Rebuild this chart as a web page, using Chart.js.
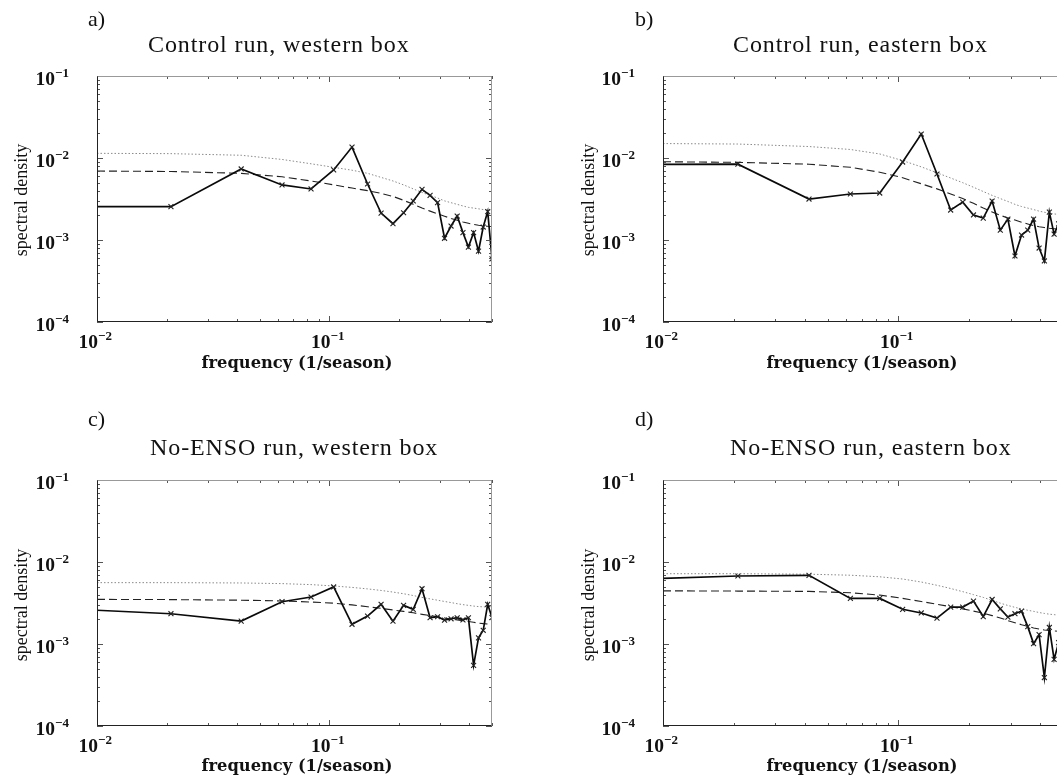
<!DOCTYPE html>
<html>
<head>
<meta charset="utf-8">
<script src="https://cdn.jsdelivr.net/npm/chart.js@4.4.1/dist/chart.umd.min.js"></script>
<style>
  html, body { margin: 0; padding: 0; background: #fff; }
  body { width: 1057px; height: 776px; overflow: hidden; position: relative; }
  canvas { position: absolute; }
  .txt { position: absolute; white-space: nowrap; color: #111; line-height: 1; }
  .letter { font: 22px "Liberation Serif", serif; }
  .title { font: 24px "Liberation Serif", serif; letter-spacing: 0.9px; }
  .ylab { font: 18px "Liberation Serif", serif; transform: translate(-50%, -50%) rotate(-90deg); }
  .xlab { font: bold 16.3px "DejaVu Serif", serif; transform: translateX(-50%); }
</style>
</head>
<body>
<canvas id="chartA"></canvas>
<canvas id="chartB"></canvas>
<canvas id="chartC"></canvas>
<canvas id="chartD"></canvas>

<div class="txt letter" style="left:88px; top:6px;">a)</div>
<div class="txt letter" style="left:635px; top:6px;">b)</div>
<div class="txt letter" style="left:88px; top:406px;">c)</div>
<div class="txt letter" style="left:635px; top:406px;">d)</div>

<div class="txt title" style="left:148px; top:31px;">Control run, western box</div>
<div class="txt title" style="left:733px; top:31px;">Control run, eastern box</div>
<div class="txt title" style="left:150px; top:434px;">No-ENSO run, western box</div>
<div class="txt title" style="left:730px; top:434px;">No-ENSO run, eastern box</div>

<div class="txt ylab" style="left:21px; top:200px;">spectral density</div>
<div class="txt ylab" style="left:588px; top:200px;">spectral density</div>
<div class="txt ylab" style="left:21px; top:605px;">spectral density</div>
<div class="txt ylab" style="left:588px; top:605px;">spectral density</div>

<div class="txt xlab" style="left:297px; top:353px;">frequency (1/season)</div>
<div class="txt xlab" style="left:862px; top:353px;">frequency (1/season)</div>
<div class="txt xlab" style="left:297px; top:756px;">frequency (1/season)</div>
<div class="txt xlab" style="left:862px; top:756px;">frequency (1/season)</div>

<script>
// frequencies (1/season): left edge, then k/48 up to Nyquist
const freq = [0.0100, 0.0208, 0.0417, 0.0625, 0.0833, 0.1042, 0.1250, 0.1458, 0.1667, 0.1875,
              0.2083, 0.2292, 0.2500, 0.2708, 0.2917, 0.3125, 0.3333, 0.3542, 0.3750, 0.3958,
              0.4167, 0.4375, 0.4583, 0.4792, 0.5000];

// a) control run, western box
const ctrlWestPsd = [2.55e-3, 2.55e-3, 7.35e-3, 4.69e-3, 4.19e-3, 7.15e-3, 1.36e-2, 4.82e-3, 2.13e-3, 1.58e-3,
                     2.15e-3, 2.99e-3, 4.15e-3, 3.5e-3, 2.85e-3, 1.05e-3, 1.48e-3, 1.96e-3, 1.23e-3, 8.2e-4,
                     1.23e-3, 7.3e-4, 1.44e-3, 2.22e-3, 5.9e-4];
const ctrlWestRed = [6.93e-3, 6.85e-3, 6.5e-3, 5.9e-3, 5.25e-3, 4.7e-3, 4.3e-3, 4.0e-3, 3.7e-3, 3.4e-3,
                     3.05e-3, 2.72e-3, 2.45e-3, 2.25e-3, 2.08e-3, 1.95e-3, 1.83e-3, 1.74e-3, 1.66e-3, 1.6e-3,
                     1.55e-3, 1.51e-3, 1.49e-3, 1.47e-3, 1.46e-3];
const ctrlWestSig = [1.14e-2, 1.13e-2, 1.08e-2, 9.6e-3, 8.5e-3, 7.7e-3, 7.1e-3, 6.5e-3, 5.8e-3, 5.25e-3,
                     4.7e-3, 4.2e-3, 3.8e-3, 3.5e-3, 3.25e-3, 3.0e-3, 2.85e-3, 2.72e-3, 2.6e-3, 2.5e-3,
                     2.45e-3, 2.4e-3, 2.35e-3, 2.32e-3, 2.3e-3];

// b) control run, eastern box
const ctrlEastPsd = [8.37e-3, 8.4e-3, 3.16e-3, 3.64e-3, 3.74e-3, 8.93e-3, 1.96e-2, 6.38e-3, 2.32e-3, 2.9e-3,
                     2.02e-3, 1.85e-3, 2.99e-3, 1.32e-3, 1.8e-3, 6.38e-4, 1.15e-3, 1.32e-3, 1.8e-3, 7.98e-4,
                     5.55e-4, 2.19e-3, 1.18e-3, 1.57e-3, 1.3e-3];
const ctrlEastRed = [9.0e-3, 8.85e-3, 8.4e-3, 7.7e-3, 6.7e-3, 5.75e-3, 4.85e-3, 4.2e-3, 3.65e-3, 3.2e-3,
                     2.8e-3, 2.45e-3, 2.2e-3, 2.0e-3, 1.85e-3, 1.75e-3, 1.65e-3, 1.57e-3, 1.5e-3, 1.45e-3,
                     1.42e-3, 1.39e-3, 1.37e-3, 1.35e-3, 1.34e-3];
const ctrlEastSig = [1.5e-2, 1.48e-2, 1.38e-2, 1.27e-2, 1.12e-2, 9.3e-3, 7.8e-3, 6.6e-3, 5.7e-3, 5.0e-3,
                     4.4e-3, 3.9e-3, 3.5e-3, 3.2e-3, 2.95e-3, 2.72e-3, 2.56e-3, 2.45e-3, 2.35e-3, 2.25e-3,
                     2.18e-3, 2.12e-3, 2.08e-3, 2.05e-3, 2.03e-3];

// c) no-ENSO run, western box
const noEnsoWestPsd = [2.58e-3, 2.34e-3, 1.9e-3, 3.28e-3, 3.74e-3, 4.96e-3, 1.74e-3, 2.19e-3, 3.05e-3, 1.9e-3,
                       2.96e-3, 2.65e-3, 4.72e-3, 2.09e-3, 2.15e-3, 1.95e-3, 2.03e-3, 2.09e-3, 1.97e-3, 2.09e-3,
                       5.5e-4, 1.19e-3, 1.47e-3, 3.05e-3, 2.1e-3];
const noEnsoWestRed = [3.5e-3, 3.48e-3, 3.42e-3, 3.35e-3, 3.25e-3, 3.15e-3, 3.0e-3, 2.85e-3, 2.72e-3, 2.6e-3,
                       2.5e-3, 2.4e-3, 2.3e-3, 2.22e-3, 2.15e-3, 2.08e-3, 2.02e-3, 1.97e-3, 1.92e-3, 1.88e-3,
                       1.84e-3, 1.8e-3, 1.77e-3, 1.75e-3, 1.74e-3];
const noEnsoWestSig = [5.6e-3, 5.6e-3, 5.55e-3, 5.45e-3, 5.3e-3, 5.1e-3, 4.9e-3, 4.7e-3, 4.5e-3, 4.3e-3,
                       4.1e-3, 3.9e-3, 3.7e-3, 3.55e-3, 3.42e-3, 3.3e-3, 3.2e-3, 3.1e-3, 3.02e-3, 2.96e-3,
                       2.9e-3, 2.86e-3, 2.84e-3, 2.82e-3, 2.8e-3];

// d) no-ENSO run, eastern box
const noEnsoEastPsd = [6.32e-3, 6.75e-3, 6.87e-3, 3.6e-3, 3.6e-3, 2.65e-3, 2.39e-3, 2.07e-3, 2.82e-3, 2.82e-3,
                       3.34e-3, 2.16e-3, 3.49e-3, 2.68e-3, 2.13e-3, 2.34e-3, 2.52e-3, 1.63e-3, 1.01e-3, 1.3e-3,
                       3.9e-4, 1.59e-3, 6.5e-4, 1.04e-3, 2.0e-3];
const noEnsoEastRed = [4.45e-3, 4.42e-3, 4.38e-3, 4.22e-3, 3.95e-3, 3.6e-3, 3.3e-3, 3.05e-3, 2.85e-3, 2.68e-3,
                       2.52e-3, 2.38e-3, 2.22e-3, 2.08e-3, 1.93e-3, 1.82e-3, 1.72e-3, 1.64e-3, 1.57e-3, 1.52e-3,
                       1.48e-3, 1.46e-3, 1.44e-3, 1.43e-3, 1.42e-3];
const noEnsoEastSig = [7.2e-3, 7.2e-3, 7.1e-3, 6.9e-3, 6.6e-3, 6.2e-3, 5.7e-3, 5.2e-3, 4.75e-3, 4.35e-3,
                       4.0e-3, 3.7e-3, 3.4e-3, 3.15e-3, 2.95e-3, 2.8e-3, 2.68e-3, 2.58e-3, 2.5e-3, 2.42e-3,
                       2.36e-3, 2.31e-3, 2.28e-3, 2.25e-3, 2.24e-3];

// axis ranges and labelled ticks
const xRange = [0.01, 0.5];
const yRange = [1e-4, 1e-1];
const xTickValues = [0.01, 0.1];
const xTickExps = ["\u22122", "\u22121"];
const yTickValues = [1e-1, 1e-2, 1e-3, 1e-4];
const yTickExps = ["\u22121", "\u22122", "\u22123", "\u22124"];

const TICK_FONT = 'bold 19.5px "Liberation Serif", serif';
const EXP_FONT = 'bold 13px "Liberation Serif", serif';

// minor tick positions on a log axis (1..9 per decade)
function logTicks(min, max) {
    const out = [];
    for (let e = Math.floor(Math.log10(min)); e <= Math.ceil(Math.log10(max)); e++) {
        for (let m = 1; m <= 9; m++) {
            const v = m * Math.pow(10, e);
            if (v >= min * 0.999 && v <= max * 1.001) out.push({ v: v, major: m === 1 });
        }
    }
    return out;
}

// Matlab style box: inward ticks on all sides, "10^n" labels
const matlabAxes = {
    id: "matlabAxes",
    afterDraw(chart) {
        const { ctx, chartArea: area } = chart;
        const xs = chart.scales.x;
        const ys = chart.scales.y;
        ctx.save();

        ctx.lineWidth = 1;
        ctx.strokeStyle = "#555";
        logTicks(xRange[0], xRange[1]).forEach(t => {
            const px = Math.round(xs.getPixelForValue(t.v)) + 0.5;
            const len = t.major ? 6 : 3;
            ctx.beginPath();
            ctx.moveTo(px, area.bottom); ctx.lineTo(px, area.bottom - len);
            ctx.moveTo(px, area.top); ctx.lineTo(px, area.top + len);
            ctx.stroke();
        });
        logTicks(yRange[0], yRange[1]).forEach(t => {
            const py = Math.round(ys.getPixelForValue(t.v)) + 0.5;
            const len = t.major ? 6 : 3;
            ctx.beginPath();
            ctx.moveTo(area.left, py); ctx.lineTo(area.left + len, py);
            ctx.moveTo(area.right, py); ctx.lineTo(area.right - len, py);
            ctx.stroke();
        });

        // frame: top/right lighter like the scan
        const l = Math.round(area.left) + 0.5, r = Math.round(area.right) - 0.5;
        const t = Math.round(area.top) + 0.5, b = Math.round(area.bottom) - 0.5;
        ctx.strokeStyle = "#999";
        ctx.beginPath();
        ctx.moveTo(l, t); ctx.lineTo(r, t); ctx.lineTo(r, b);
        ctx.stroke();
        ctx.strokeStyle = "#222";
        ctx.beginPath();
        ctx.moveTo(l, t); ctx.lineTo(l, b); ctx.lineTo(r, b);
        ctx.stroke();

        // tick labels
        ctx.fillStyle = "#111";
        yTickValues.forEach((v, i) => {
            const py = ys.getPixelForValue(v);
            ctx.font = TICK_FONT;
            ctx.textAlign = "right";
            ctx.textBaseline = "alphabetic";
            ctx.fillText("10", area.left - 42, py + 9);
            ctx.font = EXP_FONT;
            ctx.textAlign = "left";
            ctx.fillText(yTickExps[i], area.left - 42, py + 1);
        });
        xTickValues.forEach((v, i) => {
            const px = xs.getPixelForValue(v);
            ctx.font = TICK_FONT;
            ctx.textAlign = "right";
            ctx.textBaseline = "alphabetic";
            ctx.fillText("10", px + 1, area.bottom + 26);
            ctx.font = EXP_FONT;
            ctx.textAlign = "left";
            ctx.fillText(xTickExps[i], px + 1, area.bottom + 18);
        });
        ctx.restore();
    }
};

function toPoints(values) {
    return values.map((v, i) => ({ x: freq[i], y: v }));
}

function buildPanel(canvasId, box, area, psd, red, sig) {
    const canvas = document.getElementById(canvasId);
    canvas.width = box.w;
    canvas.height = box.h;
    canvas.style.left = box.left + "px";
    canvas.style.top = box.top + "px";

    new Chart(canvas, {
        type: "line",
        data: {
            datasets: [
                {
                    data: toPoints(psd),
                    borderColor: "#0a0a0a",
                    borderWidth: 1.7,
                    pointStyle: "crossRot",
                    pointRadius: c => (c.dataIndex === 0 ? 0 : 3.5),
                    pointBorderColor: "#222",
                    pointBorderWidth: 1.1,
                    tension: 0
                },
                {
                    data: toPoints(red),
                    borderColor: "#222",
                    borderWidth: 1.1,
                    borderDash: [8, 4],
                    pointRadius: 0,
                    tension: 0
                },
                {
                    data: toPoints(sig),
                    borderColor: "#8a8a8a",
                    borderWidth: 1,
                    borderDash: [1.5, 2],
                    pointRadius: 0,
                    tension: 0
                }
            ]
        },
        options: {
            responsive: false,
            animation: false,
            devicePixelRatio: 1,
            layout: {
                padding: {
                    left: area.left - box.left,
                    top: area.top - box.top,
                    right: box.left + box.w - area.right,
                    bottom: box.top + box.h - area.bottom
                }
            },
            plugins: {
                legend: { display: false },
                tooltip: { enabled: false }
            },
            scales: {
                x: { type: "logarithmic", min: xRange[0], max: xRange[1], display: false },
                y: { type: "logarithmic", min: yRange[0], max: yRange[1], display: false }
            }
        },
        plugins: [matlabAxes]
    });
}

document.addEventListener("DOMContentLoaded", function () {
    buildPanel("chartA", { left: 0, top: 0, w: 530, h: 390 },
        { left: 97, top: 76, right: 492, bottom: 322 }, ctrlWestPsd, ctrlWestRed, ctrlWestSig);
    buildPanel("chartB", { left: 527, top: 0, w: 545, h: 390 },
        { left: 663, top: 76, right: 1063, bottom: 322 }, ctrlEastPsd, ctrlEastRed, ctrlEastSig);
    buildPanel("chartC", { left: 0, top: 390, w: 530, h: 386 },
        { left: 97, top: 480, right: 492, bottom: 726 }, noEnsoWestPsd, noEnsoWestRed, noEnsoWestSig);
    buildPanel("chartD", { left: 527, top: 390, w: 545, h: 386 },
        { left: 663, top: 480, right: 1063, bottom: 726 }, noEnsoEastPsd, noEnsoEastRed, noEnsoEastSig);
});
</script>
</body>
</html>
